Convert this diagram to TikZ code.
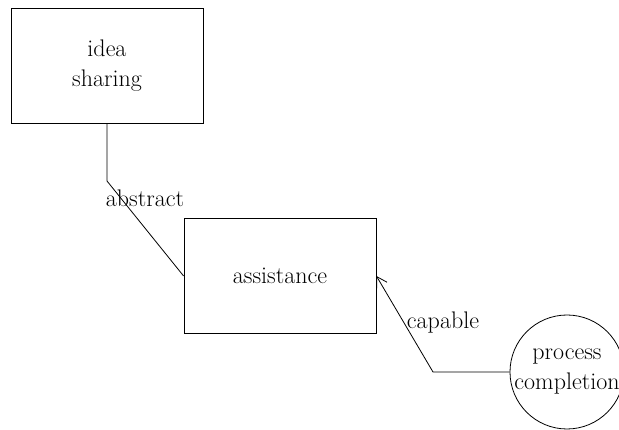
\documentclass[tikz,border=0pt]{standalone}
\usetikzlibrary{arrows.meta}
\begin{document}
\begin{tikzpicture}[x=1pt,y=-1pt,
  every node/.style={font=\fontsize{24}{30}\selectfont},
  boxnode/.style={draw,line width=0.8pt,minimum width=192pt,minimum height=115pt,inner sep=0pt,align=center},
  circnode/.style={draw,line width=0.8pt,circle,minimum size=114pt,inner sep=0pt,align=center},
  conn/.style={line width=0.8pt},
  lbl/.style={inner sep=0pt,anchor=center}]
\useasboundingbox (0,0) rectangle (619,430);
\clip (0,0) rectangle (619,430);
\node[boxnode] (idea) at (107,65.5) {idea\\sharing};
\node[boxnode] (assist) at (280,276) {assistance};
\node[circnode] (pc) at (567,372) {process\\completion};
\coordinate (b1) at (107,181);
\coordinate (b2) at (433,372);
\draw[conn] (idea.south) -- (b1) -- (assist.west);
\draw[conn,-{Straight Barb[length=10pt,width=12pt]}] (pc.west) -- (b2) -- (assist.east);
\node[lbl] (labs) at (145,198) {abstract};
\node[lbl] (lcap) at (443,323) {capable};
\end{tikzpicture}
\end{document}
